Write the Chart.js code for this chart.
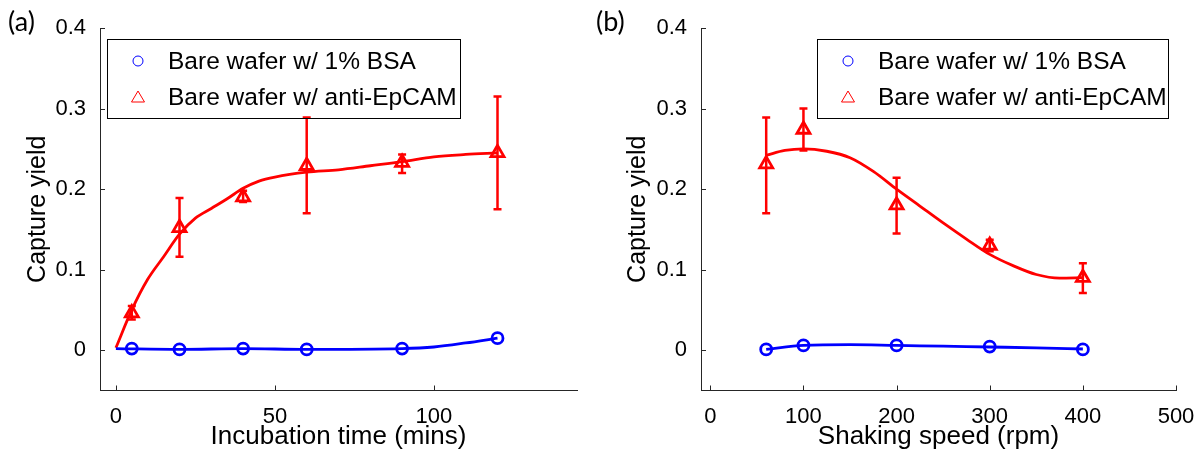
<!DOCTYPE html>
<html>
<head>
<meta charset="utf-8">
<script src="https://cdn.jsdelivr.net/npm/chart.js@4/dist/chart.umd.min.js"></script>
<style>
  html, body { margin: 0; padding: 0; background: #fff; }
  #wrap { position: relative; width: 1202px; height: 452px; overflow: hidden; }
  .panel { position: absolute; top: 0; height: 452px; }
  .tag { position: absolute; top: 4px; font: 27px Lato, "Open Sans", sans-serif; color: #000; }
</style>
</head>
<body>
<div id="wrap">
  <div class="panel" style="left:0;width:600px"><canvas id="chartA"></canvas></div>
  <div class="panel" style="left:600px;width:602px"><canvas id="chartB"></canvas></div>
  <div class="tag" style="left:8px">(a)</div>
  <div class="tag" style="left:596px">(b)</div>
</div>
<script>
// nombres de las series (leyenda)
const nombres = ['Bare wafer w/ 1% BSA', 'Bare wafer w/ anti-EpCAM'];

// (a) tiempo de incubacion
const tiempoX = [5, 20, 40, 60, 90, 120];
const tiempoBsa = [0.002, 0.001, 0.002, 0.001, 0.002, 0.015];
const tiempoEp = [0.046, 0.152, 0.190, 0.229, 0.233, 0.245];
const tiempoEpLo = [0.038, 0.116, 0.184, 0.170, 0.220, 0.175];
const tiempoEpHi = [0.055, 0.189, 0.198, 0.289, 0.243, 0.315];
// curvas de ajuste
const tiempoFitX = [0, 5, 10, 15, 20, 25, 30, 35, 40, 45, 50, 60, 70, 80, 90, 100, 110, 120];
const tiempoFitEp = [0.003, 0.050, 0.088, 0.116, 0.144, 0.164, 0.176, 0.188, 0.201, 0.210, 0.215, 0.221, 0.224, 0.229, 0.234, 0.240, 0.243, 0.245];
const tiempoFitBsaX = [0, 20, 40, 60, 90, 100, 110, 120];
const tiempoFitBsa = [0.002, 0.001, 0.002, 0.001, 0.002, 0.004, 0.009, 0.015];
const tiempoTicks = [0, 50, 100];

// (b) velocidad de agitacion
const velX = [60, 100, 200, 300, 400];
const velBsa = [0.001, 0.006, 0.006, 0.0045, 0.001];
const velEp = [0.231, 0.274, 0.180, 0.130, 0.090];
const velEpLo = [0.170, 0.248, 0.145, 0.123, 0.071];
const velEpHi = [0.289, 0.300, 0.214, 0.137, 0.108];
const velFitX = [60, 80, 100, 125, 150, 175, 200, 225, 250, 275, 300, 325, 350, 375, 400];
const velFitEp = [0.242, 0.248, 0.250, 0.247, 0.239, 0.222, 0.200, 0.179, 0.158, 0.138, 0.119, 0.105, 0.094, 0.0895, 0.090];
const velFitBsaX = [60, 100, 150, 200, 250, 300, 350, 400];
const velFitBsa = [0.001, 0.006, 0.007, 0.006, 0.005, 0.004, 0.003, 0.0015];
const velTicks = [0, 100, 200, 300, 400, 500];

const yTicks = [0, 0.1, 0.2, 0.3, 0.4];

const AZUL = '#0000ff';
const ROJO = '#ff0000';
const FUENTE = '"Liberation Sans", Arial, sans-serif';

const pts = (xs, ys) => xs.map((x, i) => ({x: x, y: ys[i]}));

// barras de error con las escalas del chart
const errorBars = {
    id: 'errorBars',
    afterDatasetsDraw(chart, args, opts) {
        const ctx = chart.ctx, sx = chart.scales.x, sy = chart.scales.y;
        ctx.save();
        ctx.strokeStyle = ROJO;
        ctx.lineWidth = 2.5;
        opts.x.forEach((v, i) => {
            const px = sx.getPixelForValue(v);
            const lo = sy.getPixelForValue(opts.lo[i]);
            const hi = sy.getPixelForValue(opts.hi[i]);
            ctx.beginPath();
            ctx.moveTo(px, lo); ctx.lineTo(px, hi);
            ctx.moveTo(px - 4, lo); ctx.lineTo(px + 4, lo);
            ctx.moveTo(px - 4, hi); ctx.lineTo(px + 4, hi);
            ctx.stroke();
        });
        ctx.restore();
    }
};

// ticks hacia adentro, estilo matlab
const inTicks = {
    id: 'inTicks',
    afterDraw(chart) {
        const ctx = chart.ctx, a = chart.chartArea;
        ctx.save();
        ctx.strokeStyle = '#262626';
        ctx.lineWidth = 1;
        ctx.beginPath();
        chart.scales.y.ticks.forEach(t => {
            const py = Math.round(chart.scales.y.getPixelForValue(t.value)) + 0.5;
            ctx.moveTo(a.left, py); ctx.lineTo(a.left + 5, py);
        });
        chart.scales.x.ticks.forEach(t => {
            const px = Math.round(chart.scales.x.getPixelForValue(t.value)) + 0.5;
            ctx.moveTo(px, a.bottom); ctx.lineTo(px, a.bottom - 5);
        });
        ctx.stroke();
        ctx.restore();
    }
};

// leyenda con caja
const cajaLeyenda = {
    id: 'cajaLeyenda',
    afterDraw(chart, args, opts) {
        const ctx = chart.ctx;
        ctx.save();
        ctx.strokeStyle = '#000';
        ctx.lineWidth = 1;
        ctx.strokeRect(opts.x + 0.5, opts.y + 0.5, opts.w, opts.h);
        ctx.font = '24.5px ' + FUENTE;
        ctx.textBaseline = 'middle';
        ctx.fillStyle = '#000';
        const filas = [22, 58];
        nombres.forEach((n, i) => {
            const y = opts.y + filas[i];
            const mx = opts.x + 31;
            ctx.beginPath();
            if (i === 0) {
                ctx.strokeStyle = AZUL;
                ctx.arc(mx, y, 5, 0, Math.PI * 2);
            } else {
                ctx.strokeStyle = ROJO;
                ctx.moveTo(mx, y - 6); ctx.lineTo(mx + 6.5, y + 5); ctx.lineTo(mx - 6.5, y + 5);
                ctx.closePath();
            }
            ctx.stroke();
            ctx.fillText(n, opts.x + 61, y + 1);
        });
        ctx.restore();
    }
};

function armarConfig(d) {
    return {
        type: 'scatter',
        data: {
            datasets: [
                {
                    label: nombres[0], data: pts(d.x, d.bsa),
                    borderColor: AZUL, backgroundColor: 'rgba(0,0,0,0)',
                    pointStyle: 'circle', pointRadius: 5.5, pointBorderWidth: 2.8, showLine: false
                }, {
                    label: nombres[1], data: pts(d.x, d.ep),
                    borderColor: ROJO, backgroundColor: 'rgba(0,0,0,0)',
                    pointStyle: 'triangle', pointRadius: 7.5, pointBorderWidth: 2.8, showLine: false
                }, {
                    label: 'fit bsa', data: pts(d.fitBsaX, d.fitBsa),
                    borderColor: AZUL, borderWidth: 2.8, pointRadius: 0, showLine: true,
                    cubicInterpolationMode: 'monotone'
                }, {
                    label: 'fit ep', data: pts(d.fitX, d.fitEp),
                    borderColor: ROJO, borderWidth: 2.8, pointRadius: 0, showLine: true,
                    cubicInterpolationMode: 'monotone'
                }
            ]
        },
        options: {
            responsive: false,
            animation: false,
            events: [],
            layout: { padding: { top: 28, right: d.padRight, left: 0, bottom: 0 } },
            scales: {
                x: {
                    type: 'linear', min: d.xmin, max: d.xmax,
                    afterBuildTicks: s => { s.ticks = d.ticks.map(v => ({value: v})); },
                    afterFit: s => { s.height = 61.5; },
                    grid: { display: false },
                    border: { display: true, color: '#262626', width: 1 },
                    ticks: { color: '#000', font: { family: FUENTE, size: 22 }, padding: 5, maxRotation: 0 },
                    title: { display: true, text: d.xTitle, color: '#000',
                        font: { family: FUENTE, size: 26 }, padding: { top: 0, bottom: 0 } }
                },
                y: {
                    type: 'linear', min: -0.05, max: 0.4,
                    afterBuildTicks: s => { s.ticks = yTicks.map(v => ({value: v})); },
                    afterFit: s => { s.width = d.yWidth; },
                    grid: { display: false },
                    border: { display: true, color: '#262626', width: 1 },
                    ticks: { color: '#000', font: { family: FUENTE, size: 22 }, padding: 6,
                        callback: v => v === 0 ? '0' : v.toFixed(1) },
                    title: { display: true, text: 'Capture yield', color: '#000',
                        font: { family: FUENTE, size: 25 }, padding: { top: 23, bottom: 0 } }
                }
            },
            plugins: {
                legend: { display: false },
                tooltip: { enabled: false },
                errorBars: { x: d.x, lo: d.lo, hi: d.hi },
                cajaLeyenda: d.leyenda
            }
        },
        plugins: [errorBars, inTicks, cajaLeyenda]
    };
}

const canvasA = document.getElementById('chartA');
canvasA.width = 600; canvasA.height = 452;
const chartA = new Chart(canvasA, armarConfig({
    x: tiempoX, bsa: tiempoBsa, ep: tiempoEp, lo: tiempoEpLo, hi: tiempoEpHi,
    fitX: tiempoFitX, fitEp: tiempoFitEp, fitBsaX: tiempoFitBsaX, fitBsa: tiempoFitBsa,
    ticks: tiempoTicks, xmin: -5, xmax: 145, xTitle: 'Incubation time (mins)',
    yWidth: 100, padRight: 23,
    leyenda: { x: 107, y: 39, w: 353, h: 79 }
}));

const canvasB = document.getElementById('chartB');
canvasB.width = 602; canvasB.height = 452;
const chartB = new Chart(canvasB, armarConfig({
    x: velX, bsa: velBsa, ep: velEp, lo: velEpLo, hi: velEpHi,
    fitX: velFitX, fitEp: velFitEp, fitBsaX: velFitBsaX, fitBsa: velFitBsa,
    ticks: velTicks, xmin: -10, xmax: 500, xTitle: 'Shaking speed (rpm)',
    yWidth: 101, padRight: 26,
    leyenda: { x: 217, y: 39, w: 351, h: 79 }
}));
</script>
</body>
</html>
